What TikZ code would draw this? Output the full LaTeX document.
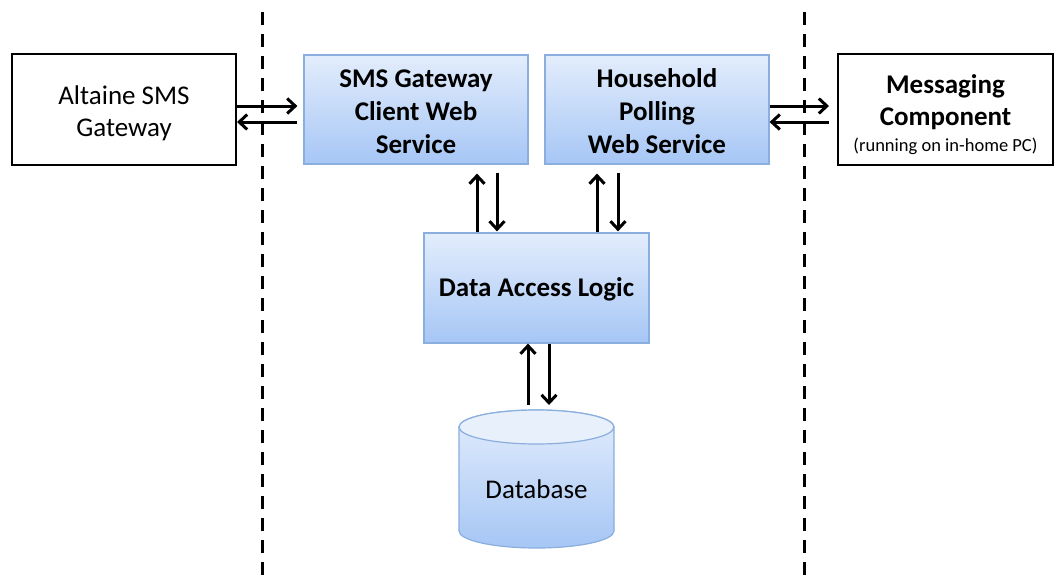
\documentclass[tikz,border=0pt]{standalone}
\usepackage{fontspec}
\setmainfont{Carlito}
\usetikzlibrary{arrows.meta,calc}
\definecolor{boxtop}{HTML}{E3EDFC}
\definecolor{boxbot}{HTML}{A6C6F5}
\definecolor{boxline}{HTML}{8AAEDE}
\definecolor{dbtop}{HTML}{E8F0FC}
\begin{document}
\begin{tikzpicture}[x=1pt,y=-1pt,
 bluebox/.style={draw=boxline, line width=1.2pt, top color=boxtop, bottom color=boxbot, minimum width=224pt, minimum height=109pt, inner sep=0pt},
 boldtext/.style={align=center, inner sep=0pt, font=\fontsize{27}{33}\selectfont\bfseries},
 whitebox/.style={draw=black, line width=2pt, fill=white, minimum width=224pt, minimum height=111pt, inner sep=0pt},
 boxtext/.style={align=center, inner sep=0pt, font=\fontsize{27}{32}\selectfont},
 arr/.style={line width=3pt, -{Straight Barb[length=8pt,width=15pt,line width=3pt]}},
 divider/.style={line width=3pt, dash pattern=on 13pt off 9pt}]
\useasboundingbox[fill=white] (0,0) rectangle (1056,581);
% dividers
\coordinate (d1t) at (262,12); \coordinate (d1b) at (262,581);
\coordinate (d2t) at (804,12); \coordinate (d2b) at (804,581);
\draw[divider] (d1t) -- (d1b);
\draw[divider] (d2t) -- (d2b);
% boxes
\node[whitebox] (alt) at (124,109.5) {};
\node[boxtext] (alttxt) at (124,113) {Altaine SMS\\Gateway};
\node[whitebox, minimum width=215pt] (msg) at (945.5,109.5) {};
\node[boxtext, font=\fontsize{27}{32}\selectfont\bfseries] (msgtxt) at (945.5,115) {Messaging\\Component\\[-6pt]{\mdseries\fontsize{18.5}{22}\selectfont (running on in-home PC)}};
\node[bluebox] (sms) at (416,109.5) {};
\node[boldtext] (smstxt) at (416,111.5) {SMS Gateway\\Client Web\\Service};
\node[bluebox] (hh) at (657,109.5) {};
\node[boldtext] (hhtxt) at (657,111.5) {Household\\Polling\\Web Service};
\node[bluebox, minimum width=225pt, minimum height=110pt] (dal) at (536.5,288) {};
\node[boldtext] (daltxt) at (536.5,289.5) {Data Access Logic};
% database cylinder
\path[draw=boxline, line width=1.2pt, top color=boxtop, bottom color=boxbot]
  (459,427) -- (459,531) arc (180:0:77.5 and 17) -- (614,427) arc (0:-180:77.5 and 17) -- cycle;
\draw[boxline, line width=1.2pt, fill=dbtop] (536.5,427) ellipse (77.5 and 17);
\node[font=\fontsize{27}{33}\selectfont] (db) at (536.5,489) {Database};
\coordinate (dbtopc) at (536.5,410);
% horizontal arrows
\draw[arr, shorten >=6pt] ($(alt.east)+(0,-3.5)$) -- ($(sms.west)+(0,-3.5)$);
\draw[arr, shorten <=6pt] ($(sms.west)+(0,12.5)$) -- ($(alt.east)+(0,12.5)$);
\draw[arr, shorten >=8pt] ($(hh.east)+(0,-3.5)$) -- ($(msg.west)+(0,-3.5)$);
\draw[arr, shorten <=8pt] ($(msg.west)+(0,12.5)$) -- ($(hh.east)+(0,12.5)$);
% vertical arrows SMS / DAL
\draw[arr, shorten >=9pt] (dal.north -| 477,0) -- (sms.south -| 477,0);
\draw[arr, shorten <=8pt, shorten >=1pt] (sms.south -| 497,0) -- (dal.north -| 497,0);
\draw[arr, shorten >=9pt] (dal.north -| 597,0) -- (hh.south -| 597,0);
\draw[arr, shorten <=8pt, shorten >=1pt] (hh.south -| 618,0) -- (dal.north -| 618,0);
% DAL / DB
\draw[arr, shorten <=5pt] (dbtopc -| 528,0) -- (dal.south -| 528,0);
\draw[arr, shorten >=5pt] (dal.south -| 549,0) -- (dbtopc -| 549,0);
\end{tikzpicture}
\end{document}
